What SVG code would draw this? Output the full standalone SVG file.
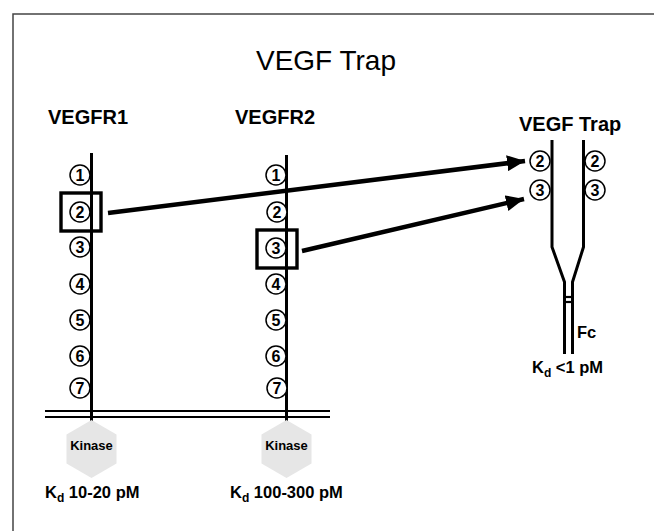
<svg xmlns="http://www.w3.org/2000/svg" width="654" height="531" viewBox="0 0 654 531">
<style>
.frame{fill:none;stroke:#444;stroke-width:1.5}
.ax{fill:none;stroke:#000;stroke-width:3}
.mem{fill:none;stroke:#000;stroke-width:2.2}
.dom circle{fill:#fff;stroke:#000;stroke-width:1.5}
.num{font-family:"Liberation Sans",Arial,sans-serif;font-weight:bold;font-size:16px;text-anchor:middle}
.lbl{font-family:"Liberation Sans",Arial,sans-serif;font-weight:bold;font-size:20px}
.kd{font-family:"Liberation Sans",Arial,sans-serif;font-weight:bold;font-size:16.5px}
.kin{fill:#e6e6e6;stroke:none}
.kint{font-family:"Liberation Sans",Arial,sans-serif;font-weight:bold;font-size:13px;text-anchor:middle}
.box{fill:none;stroke:#000;stroke-width:3.4}
.arr{stroke:#000;stroke-width:4.5;fill:none}
</style>
<defs>
<marker id="ah" markerUnits="userSpaceOnUse" markerWidth="20" markerHeight="16" refX="18" refY="8" orient="auto">
<path d="M0,0 L18,8 L0,16 Z" fill="#000"/>
</marker>
</defs>
<rect class="frame" x="13" y="14" width="700" height="600"/>
<text x="326" y="70" font-family="Liberation Sans,Arial,sans-serif" font-size="28" text-anchor="middle">VEGF Trap</text>

<g id="membrane">
<line class="mem" x1="45" y1="411" x2="330" y2="411"/>
<line class="mem" x1="45" y1="417" x2="330" y2="417"/>
</g>

<g id="vegfr1">
<text class="lbl" x="48" y="124">VEGFR1</text>
<line class="ax" x1="91.5" y1="153" x2="91.5" y2="421"/>
<g class="dom">
<circle cx="80" cy="175" r="10"/><circle cx="80" cy="212" r="10"/><circle cx="80" cy="247" r="10"/><circle cx="80" cy="284" r="10"/><circle cx="80" cy="320" r="10"/><circle cx="80" cy="356" r="10"/><circle cx="80" cy="388" r="10"/>
</g>
<g class="num">
<text x="80" y="180.8">1</text><text x="80" y="217.8">2</text><text x="80" y="252.8">3</text><text x="80" y="289.8">4</text><text x="80" y="325.8">5</text><text x="80" y="361.8">6</text><text x="80" y="393.8">7</text>
</g>
<rect class="box" x="61" y="193" width="40" height="38"/>
<polygon class="kin" points="91.5,420 116.5,434.5 116.5,463.5 91.5,478 66.5,463.5 66.5,434.5"/>
<text class="kint" x="91.5" y="449.5">Kinase</text>
<text class="kd" x="45" y="498">K<tspan font-size="12" dy="4">d</tspan><tspan dy="-4"> 10-20 pM</tspan></text>
</g>

<g id="vegfr2">
<text class="lbl" x="235" y="124">VEGFR2</text>
<line class="ax" x1="286.5" y1="155" x2="286.5" y2="421"/>
<g class="dom">
<circle cx="276" cy="175" r="10"/><circle cx="277" cy="212" r="10"/><circle cx="276" cy="248" r="10"/><circle cx="276" cy="284" r="10"/><circle cx="276" cy="320" r="10"/><circle cx="276" cy="356" r="10"/><circle cx="277" cy="388" r="10"/>
</g>
<g class="num">
<text x="276" y="180.8">1</text><text x="277" y="217.8">2</text><text x="276" y="253.8">3</text><text x="276" y="289.8">4</text><text x="276" y="325.8">5</text><text x="276" y="361.8">6</text><text x="277" y="393.8">7</text>
</g>
<rect class="box" x="257" y="230" width="40" height="38"/>
<polygon class="kin" points="286.5,420 311.5,434.5 311.5,463.5 286.5,478 261.5,463.5 261.5,434.5"/>
<text class="kint" x="286.5" y="449.5">Kinase</text>
<text class="kd" x="230" y="498">K<tspan font-size="12" dy="4">d</tspan><tspan dy="-4"> 100-300 pM</tspan></text>
</g>

<g id="vegftrap">
<text class="lbl" x="519" y="131" font-size="21">VEGF Trap</text>
<path class="ax" d="M552,140 V247 L564.5,282 V354"/>
<path class="ax" d="M583.5,140 V247 L572.5,282 V354"/>
<line class="mem" x1="564.5" y1="297" x2="572.5" y2="297"/>
<line class="mem" x1="564.5" y1="302" x2="572.5" y2="302"/>
<g class="dom">
<circle cx="540" cy="161" r="10"/><circle cx="540" cy="190" r="10"/><circle cx="595" cy="161" r="10"/><circle cx="595" cy="190" r="10"/>
</g>
<g class="num">
<text x="540" y="166.8">2</text><text x="540" y="195.8">3</text><text x="595" y="166.8">2</text><text x="595" y="195.8">3</text>
</g>
<text class="kd" x="577" y="338" font-size="15">Fc</text>
<text class="kd" x="532" y="373">K<tspan font-size="12" dy="4">d</tspan><tspan dy="-4"> &lt;1 pM</tspan></text>
</g>

<g id="connectors">
<line class="arr" x1="108" y1="213" x2="525" y2="161" marker-end="url(#ah)"/>
<line class="arr" x1="302" y1="251" x2="524" y2="199" marker-end="url(#ah)"/>
</g>
</svg>
